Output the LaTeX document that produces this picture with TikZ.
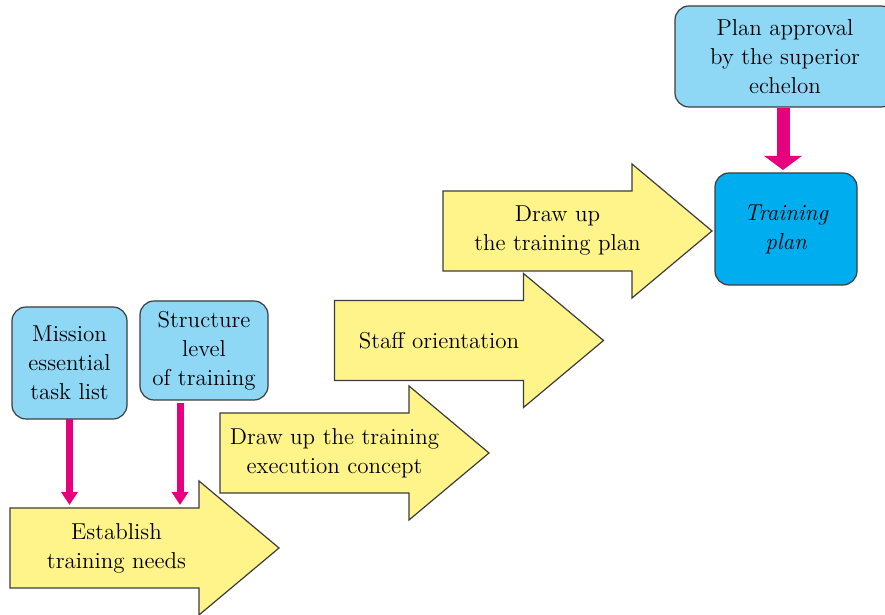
\documentclass[tikz,border=0pt]{standalone}
\usetikzlibrary{arrows.meta}

\definecolor{stepyellow}{HTML}{FFF48A}
\definecolor{boxblue}{HTML}{8ED8F6}
\definecolor{planblue}{HTML}{00AEEF}
\definecolor{feedpink}{HTML}{E6007E}
\definecolor{edgegray}{HTML}{3C3C3C}

\tikzset{
  labelfont/.style={font=\fontsize{11.5}{14.5}\selectfont},
  stepbody/.style={rectangle, minimum width=94.5pt, minimum height=40pt, inner sep=0pt, outer sep=0pt},
  stepline/.style={draw=edgegray, line width=0.6pt, fill=stepyellow, line join=miter},
  steptext/.style={labelfont, align=center, inner sep=0pt},
  infobox/.style={labelfont, draw=edgegray, line width=0.6pt, fill=boxblue, rounded corners=7pt, align=center, inner sep=0pt, outer sep=0pt},
  feed/.style={draw=feedpink, line width=3.5pt, -{Triangle[width=8pt,length=6.5pt]}}
}

\begin{document}
\begin{tikzpicture}[x=0.5pt, y=0.5pt]

\useasboundingbox (0,0) rectangle (885,615);

% Steps (big yellow arrows)
\foreach \nm/\cx/\cy/\dx/\txt in {needs/104.5/67/12/{Establish\\training needs},
    concept/314.5/162/20/{Draw up the training\\execution concept},
    orient/429/274.5/10/{Staff orientation},
    drawplan/537.5/384/20/{Draw up\\the training plan}}{
  \node[stepbody] (\nm) at (\cx,\cy) {};
  \draw[stepline] (\nm.south west) -- (\nm.north west) -- (\nm.north east) -- ++(0,27)
    -- ([xshift=40pt]\nm.east) -- ([yshift=-13.5pt]\nm.south east) -- (\nm.south east) -- cycle;
  \node[steptext] (\nm-text) at ([xshift=\dx*0.5pt]\nm.center) {\txt};
}

% Inputs
\node[infobox, minimum width=57.5pt, minimum height=56pt] (mission) at (69.5,252) {Mission\\essential\\task list};
\node[infobox, minimum width=64pt, minimum height=49.5pt] (structure) at (204,264.5) {Structure\\level\\of training};
\node[infobox, minimum width=110pt, minimum height=50.5pt] (approval) at (785,558.5) {Plan approval\\by the superior\\echelon};

% Result
\node[infobox, fill=planblue, minimum width=71pt, minimum height=56pt,
  font=\fontsize{11.5}{14.5}\selectfont\itshape] (plan) at (786,386) {Training\\plan};

% Feeds
\draw[feed, shorten >=1.5pt] (mission.south) -- (mission.south |- needs.north);
\draw[feed, shorten <=1.5pt, shorten >=1.5pt] ([xshift=-12pt]structure.south) -- ([xshift=-12pt]structure.south |- needs.north);
\draw[feed, line width=6.5pt, -{Triangle[width=18.5pt,length=7pt]}, shorten <=0.5pt, shorten >=1.5pt]
  ([xshift=-1pt]approval.south) -- ([xshift=-1pt]approval.south |- plan.north);

\end{tikzpicture}
\end{document}
